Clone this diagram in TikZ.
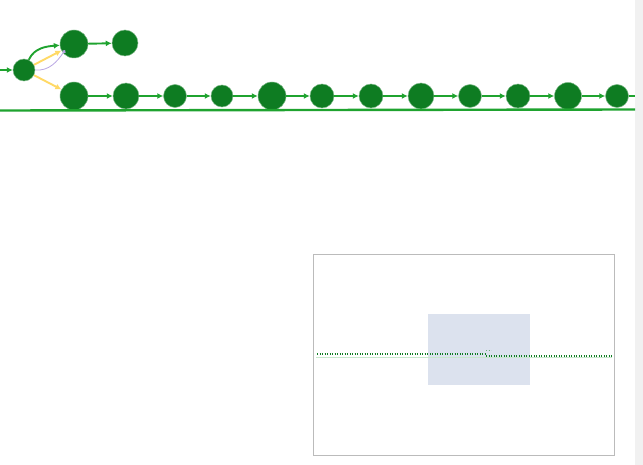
\documentclass[tikz,border=0pt]{standalone}
\usepackage{xcolor}
\definecolor{gitnode}{HTML}{0E7C22}
\definecolor{gitedge}{HTML}{1FA32F}
\definecolor{gityel}{HTML}{FFD966}
\definecolor{gitpur}{HTML}{B9A6E3}
\definecolor{mapbox}{HTML}{BBBBBB}
\definecolor{mapview}{HTML}{DCE2EE}
\definecolor{scrollbg}{HTML}{F1F1F1}
\usetikzlibrary{arrows.meta}

\begin{document}
\begin{tikzpicture}[x=1pt,y=-1pt,
  commit/.style={circle,fill=gitnode,draw=gitnode!55!white,line width=0.5pt,inner sep=0pt,minimum size=#1},
  commit/.default=24pt,
  link/.style={gitedge,line width=1.9pt,-{Latex[length=6pt,width=6pt]}},
  merge/.style={gityel,line width=1.9pt,-{Latex[length=6pt,width=6pt]}},
  hint/.style={gitpur,line width=0.8pt,-{Circle[length=3.5pt]}}]
\useasboundingbox (0,0) rectangle (643,465);
\fill[scrollbg] (635,0) rectangle (643,465);

% graph
\coordinate (in) at (0,70);
\coordinate (out) at (635,96);
\node[commit=22pt] (c0) at (24,70) {};
\node[commit=28pt] (t1) at (74,44) {};
\node[commit=26pt] (t2) at (125,43) {};
\node[commit=28pt] (m1) at (74,96) {};
\node[commit=26pt] (m2) at (126,96) {};
\node[commit=23pt] (m3) at (175,96) {};
\node[commit=22pt] (m4) at (222,96) {};
\node[commit=28pt] (m5) at (272,96) {};
\node[commit=24pt] (m6) at (322,96) {};
\node[commit=24pt] (m7) at (371,96) {};
\node[commit=26pt] (m8) at (421,96) {};
\node[commit=23pt] (m9) at (470,96) {};
\node[commit=24pt] (m10) at (518,96) {};
\node[commit=27pt] (m11) at (568,96) {};
\node[commit=23pt] (m12) at (617,96) {};

\draw[link] (in) -- (c0);
\draw[link] (c0) to[out=65,in=185] (t1);
\draw[merge] (c0) -- (t1);
\draw[merge] (c0) -- (m1);
\draw[hint] (c0.east) to[out=-5,in=235] ([shift={(-9pt,8pt)}]t1.south);
\draw[link] (t1) -- (t2);
\foreach \a/\b in {m1/m2,m2/m3,m3/m4,m4/m5,m5/m6,m6/m7,m7/m8,m8/m9,m9/m10,m10/m11,m11/m12}
  \draw[link] (\a) -- (\b);
\draw[gitedge,line width=1.9pt] (m12) -- (out);
\draw[gitedge,line width=2.4pt] (0,110.5) -- (635,109.5);

% minimap
\draw[mapbox,line width=0.8pt] (313.5,254.5) rectangle (614.5,455.5);
\fill[mapview] (428,314) rectangle (530,385);
\draw[gitedge!25,line width=0.6pt] (316,357.5) -- (612,357.5);
\draw[gitnode,line width=1.3pt,dash pattern=on 1.2pt off 1.3pt] (317,354) -- (485,354);
\draw[gitnode!60,line width=1.3pt,dash pattern=on 1.2pt off 1.3pt] (486,350.5) -- (491,350.5);
\draw[gitnode,line width=1.3pt,dash pattern=on 1.2pt off 1.3pt] (486,356) -- (612,356);
\end{tikzpicture}
\end{document}
